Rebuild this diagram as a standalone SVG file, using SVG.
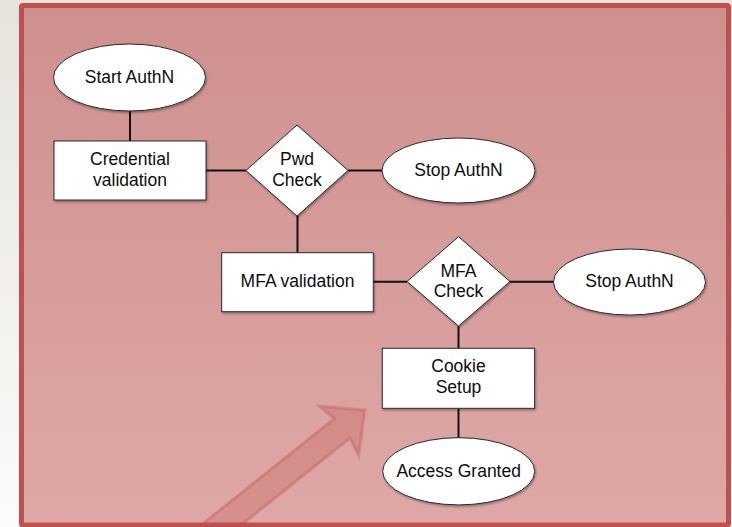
<svg xmlns="http://www.w3.org/2000/svg" width="732" height="527" viewBox="0 0 732 527">
  <defs>
    <linearGradient id="pageBg" x1="0" y1="0" x2="0" y2="1">
      <stop offset="0" stop-color="#e6e3dc"/>
      <stop offset="1" stop-color="#fbfbfa"/>
    </linearGradient>
    <linearGradient id="panelFill" x1="0" y1="0" x2="0" y2="1">
      <stop offset="0" stop-color="#ce908e"/>
      <stop offset="1" stop-color="#dea8a7"/>
    </linearGradient>
    <filter id="shadow" x="-10%" y="-10%" width="125%" height="130%">
      <feDropShadow dx="1" dy="1.5" stdDeviation="0.8" flood-color="#000" flood-opacity="0.35"/>
    </filter>
    <filter id="soft" x="-10%" y="-10%" width="120%" height="120%">
      <feGaussianBlur stdDeviation="0.7"/>
    </filter>
  </defs>
  <style>
    .node { fill: #ffffff; stroke: #2b2b2b; stroke-width: 1; filter: url(#shadow); }
    .edge { stroke: #111111; stroke-width: 2; fill: none; }
    .label { font-family: "Liberation Sans", Arial, Helvetica, sans-serif; font-size: 17.5px; fill: #0d0d0d; text-anchor: middle; }
  </style>

  <!-- page and panel -->
  <rect x="0" y="0" width="732" height="527" fill="url(#pageBg)"/>
  <rect x="21.5" y="5.5" width="707" height="519.5" fill="url(#panelFill)"/>

  <!-- highlight arrow pointing at the cookie step -->
  <g id="pointer" transform="translate(225,522) rotate(-38.66)" filter="url(#soft)">
    <path d="M -40,-12.5 L 150,-12.5 L 146,-31.5 L 179,0 L 146,31.5 L 150,12.5 L -40,12.5 Z"
          fill="#c0504d" fill-opacity="0.28" stroke="#c0504d" stroke-opacity="0.35" stroke-width="3" stroke-linejoin="miter"/>
  </g>

  <rect x="21.5" y="5.5" width="707" height="519.5" rx="1.5" fill="none" stroke="#c0504d" stroke-width="5"/>

  <!-- connectors -->
  <g id="connectors">
    <line class="edge" x1="130" y1="111" x2="130" y2="141"/>
    <line class="edge" x1="206" y1="170.5" x2="246" y2="170.5"/>
    <line class="edge" x1="348" y1="170.5" x2="382" y2="170.5"/>
    <line class="edge" x1="297.5" y1="216" x2="297.5" y2="253"/>
    <line class="edge" x1="373" y1="281.7" x2="407" y2="281.7"/>
    <line class="edge" x1="510" y1="281.7" x2="553" y2="281.7"/>
    <line class="edge" x1="458.5" y1="326" x2="458.5" y2="348.5"/>
    <line class="edge" x1="458.5" y1="408.5" x2="458.5" y2="438"/>
  </g>

  <!-- nodes -->
  <g id="start-authn">
    <ellipse class="node" cx="129.5" cy="77.5" rx="76" ry="33.5"/>
    <text class="label" x="129.5" y="83.3">Start AuthN</text>
  </g>

  <g id="credential-validation">
    <rect class="node" x="54" y="141" width="152" height="59"/>
    <text class="label" x="130" y="165">Credential</text>
    <text class="label" x="130" y="185.5">validation</text>
  </g>

  <g id="pwd-check">
    <polygon class="node" points="297,125 348,170.5 297,216 246,170.5"/>
    <text class="label" x="297" y="165">Pwd</text>
    <text class="label" x="297" y="186">Check</text>
  </g>

  <g id="stop-authn-1">
    <ellipse class="node" cx="458.5" cy="170.5" rx="76.5" ry="32.5"/>
    <text class="label" x="458.5" y="175.7">Stop AuthN</text>
  </g>

  <g id="mfa-validation">
    <rect class="node" x="221.7" y="252.7" width="151.6" height="59"/>
    <text class="label" x="297.5" y="287.3">MFA validation</text>
  </g>

  <g id="mfa-check">
    <polygon class="node" points="458.5,236.7 510,281.5 458.5,326 407,281.5"/>
    <text class="label" x="458.5" y="276.7">MFA</text>
    <text class="label" x="458.5" y="296.7">Check</text>
  </g>

  <g id="stop-authn-2">
    <ellipse class="node" cx="629.5" cy="282" rx="76" ry="33"/>
    <text class="label" x="629.5" y="286.7">Stop AuthN</text>
  </g>

  <g id="cookie-setup">
    <rect class="node" x="382.3" y="348.3" width="152.3" height="60"/>
    <text class="label" x="458.5" y="372.3">Cookie</text>
    <text class="label" x="458.5" y="393.3">Setup</text>
  </g>

  <g id="access-granted">
    <ellipse class="node" cx="458.7" cy="471.3" rx="76" ry="33.6"/>
    <text class="label" x="458.7" y="476.7">Access Granted</text>
  </g>
</svg>
